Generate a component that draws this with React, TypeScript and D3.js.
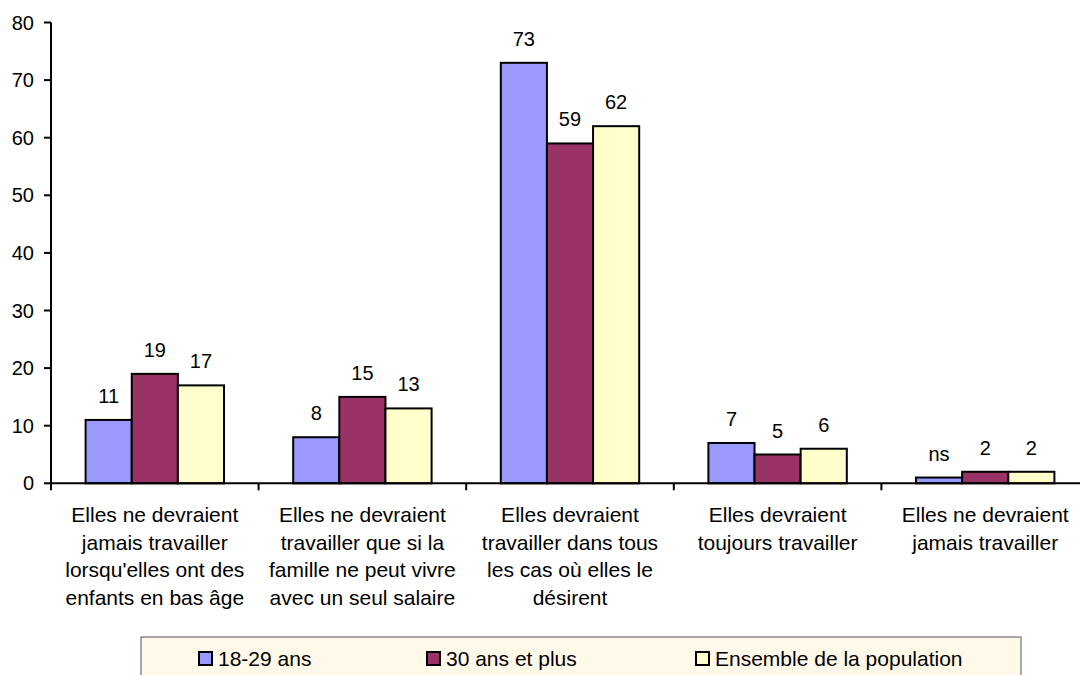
import React from 'react';
import * as d3 from 'd3';

const WIDTH = 1080;
const HEIGHT = 675;

const categories = [
    ['Elles ne devraient', 'jamais travailler', "lorsqu'elles ont des", 'enfants en bas âge'],
    ['Elles ne devraient', 'travailler que si la', 'famille ne peut vivre', 'avec un seul salaire'],
    ['Elles devraient', 'travailler dans tous', 'les cas où elles le', 'désirent'],
    ['Elles devraient', 'toujours travailler'],
    ['Elles ne devraient', 'jamais travailler'],
];

const seriesNames = ['18-29 ans', '30 ans et plus', 'Ensemble de la population'];
const seriesColors = ['#9999FF', '#993366', '#FFFFCC'];

const young = [11, 8, 73, 7, 1];
const older = [19, 15, 59, 5, 2];
const everyone = [17, 13, 62, 6, 2];
const youngLabels = ['11', '8', '73', '7', 'ns'];

const yTicks = [0, 10, 20, 30, 40, 50, 60, 70, 80];

const FONT = '"Liberation Sans", Arial, sans-serif';

const margin = {top: 22.5, left: 51, bottom: 675 - 483.3, right: 1080 - 1089};

export default function App() {
    const chartW = WIDTH - margin.left - margin.right;
    const chartH = HEIGHT - margin.top - margin.bottom;

    const x0 = d3.scaleBand<number>()
        .domain(categories.map((_, i) => i))
        .range([0, chartW])
        .padding(0);

    // three bars per group, with a gap on both sides
    const x1 = d3.scaleBand<number>()
        .domain([0, 1, 2])
        .range([0, x0.bandwidth()])
        .paddingInner(0)
        .paddingOuter(0.75);

    const y = d3.scaleLinear().domain([0, 80]).range([chartH, 0]);

    const series = [young, older, everyone];

    return (
        <svg width={WIDTH} height={HEIGHT} style={{position: 'absolute', top: 0, left: 0}}
             fontFamily={FONT}>
            <g transform={`translate(${margin.left},${margin.top})`}>
                {categories.map((lines, ci) => (
                    <g key={ci} transform={`translate(${x0(ci)},0)`}>
                        {series.map((vals, si) => {
                            const bx = x1(si) ?? 0;
                            const by = y(vals[ci]);
                            const label = si === 0 ? youngLabels[ci] : String(vals[ci]);
                            return (
                                <g key={si}>
                                    <rect x={bx} y={by} width={x1.bandwidth()} height={chartH - by}
                                          fill={seriesColors[si]} stroke="#000" strokeWidth={2}/>
                                    <text x={bx + x1.bandwidth() / 2} y={by - 17} textAnchor="middle"
                                          fontSize={20}>{label}</text>
                                </g>
                            );
                        })}
                        <text x={x0.bandwidth() / 2} textAnchor="middle" fontSize={21}>
                            {lines.map((l, li) => (
                                <tspan key={li} x={x0.bandwidth() / 2} y={chartH + 39 + li * 27.5}>{l}</tspan>
                            ))}
                        </text>
                    </g>
                ))}

                {/* y axis */}
                <line x1={0} x2={0} y1={0} y2={chartH} stroke="#000" strokeWidth={2}/>
                {yTicks.map(t => (
                    <g key={t} transform={`translate(0,${y(t)})`}>
                        <line x1={-7} x2={0} stroke="#000" strokeWidth={2}/>
                        <text x={-17} dy="0.35em" textAnchor="end" fontSize={20}>{t}</text>
                    </g>
                ))}

                {/* x axis */}
                <line x1={0} x2={chartW} y1={chartH} y2={chartH} stroke="#000" strokeWidth={2}/>
                {categories.map((_, ci) => (
                    <line key={ci} x1={x0(ci)} x2={x0(ci)} y1={chartH} y2={chartH + 7}
                          stroke="#000" strokeWidth={2}/>
                ))}
            </g>

            {/* legend */}
            <rect x={141} y={637} width={880} height={44} fill="#FFF9EA" stroke="#555" strokeWidth={1}/>
            {seriesNames.map((name, i) => {
                const lx = [198, 426, 695][i];
                return (
                    <g key={name}>
                        <rect x={lx + 1} y={652} width={13} height={13} fill={seriesColors[i]}
                              stroke="#000" strokeWidth={2}/>
                        <text x={lx + 20} y={666} fontSize={21}>{name}</text>
                    </g>
                );
            })}
        </svg>
    );
}
